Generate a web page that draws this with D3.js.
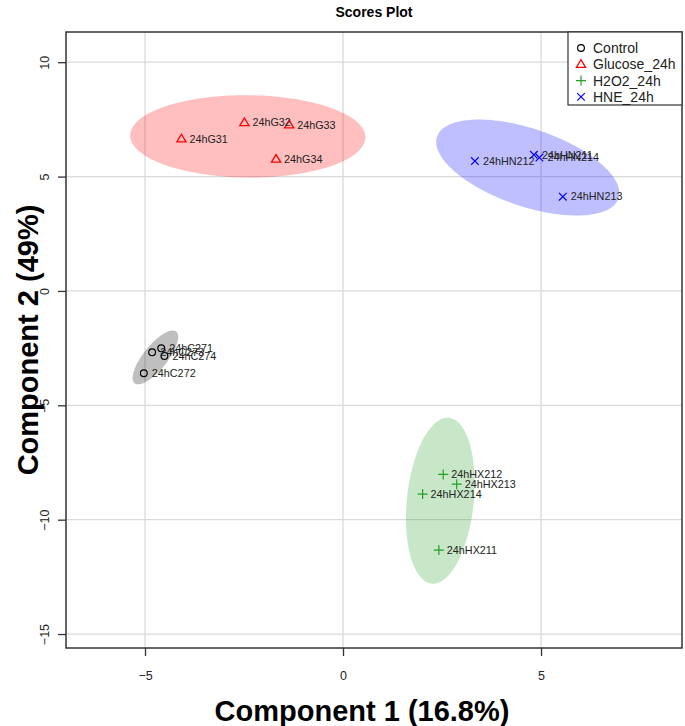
<!DOCTYPE html>
<html><head><meta charset="utf-8">
<script src="https://cdn.jsdelivr.net/npm/d3@7"></script>
<style>body{margin:0;background:#fff}</style></head>
<body><svg id="c" width="685" height="726"></svg>
<script>
const groups = ["Control", "Glucose_24h", "H2O2_24h", "HNE_24h"];
const groupColors = ["#000000", "#FF0000", "#23A023", "#0000FF"];
const sampleNames = ["24hC271","24hC273","24hC274","24hC272",
  "24hG32","24hG33","24hG31","24hG34",
  "24hHX212","24hHX213","24hHX214","24hHX211",
  "24hHN212","24hHN211","24hHN214","24hHN213"];
const sampleGroup = [0,0,0,0, 1,1,1,1, 2,2,2,2, 3,3,3,3];
const comp1 = [-4.59,-4.82,-4.51,-5.03, -2.49,-1.36,-4.08,-1.69, 2.53,2.87,2.01,2.42, 3.33,4.82,4.96,5.55];
const comp2 = [-2.51,-2.68,-2.84,-3.60, 7.36,7.26,6.65,5.76, -8.02,-8.45,-8.88,-11.33, 5.68,5.95,5.83,4.12];
const xTicks = [-5, 0, 5];
const yTicks = [-15, -10, -5, 0, 5, 10];
const xDomain = [-6.995, 8.56];
const yDomain = [-15.61, 11.32];

const svg = d3.select("#c");
const L = 66, R = 682, T = 32, B = 648;
const x = d3.scaleLinear().domain(xDomain).range([L, R]);
const y = d3.scaleLinear().domain(yDomain).range([B, T]);
const font = "'Liberation Sans', Arial, sans-serif";

// grid
svg.append("g").selectAll("line").data(xTicks).join("line")
  .attr("x1", d => x(d)).attr("x2", d => x(d)).attr("y1", T).attr("y2", B)
  .attr("stroke", "#DADADA").attr("stroke-width", 1.3);
svg.append("g").selectAll("line").data(yTicks).join("line")
  .attr("y1", d => y(d)).attr("y2", d => y(d)).attr("x1", L).attr("x2", R)
  .attr("stroke", "#DADADA").attr("stroke-width", 1.3);

// 95% confidence ellipses computed from the group scores
const tval = Math.sqrt(5.991465);
const lineGen = d3.line().x(p => x(p[0])).y(p => y(p[1])).curve(d3.curveLinearClosed);
groups.forEach((g, gi) => {
  const idx = sampleGroup.map((s, i) => s === gi ? i : -1).filter(i => i >= 0);
  const xs = idx.map(i => comp1[i]), ys = idx.map(i => comp2[i]);
  const n = xs.length, mx = d3.mean(xs), my = d3.mean(ys);
  let sxx = 0, syy = 0, sxy = 0;
  for (let k = 0; k < n; k++) { const dx = xs[k]-mx, dy = ys[k]-my; sxx += dx*dx; syy += dy*dy; sxy += dx*dy; }
  sxx /= (n-1); syy /= (n-1); sxy /= (n-1);
  const tr = sxx + syy, det = sxx*syy - sxy*sxy;
  const disc = Math.sqrt(Math.max(0, tr*tr/4 - det));
  const l1 = tr/2 + disc, l2 = tr/2 - disc;
  let v1 = Math.abs(sxy) > 1e-12 ? [l1 - syy, sxy] : (sxx >= syy ? [1,0] : [0,1]);
  const nv = Math.hypot(v1[0], v1[1]); v1 = [v1[0]/nv, v1[1]/nv];
  const v2 = [-v1[1], v1[0]];
  const pts = d3.range(0, 360, 2).map(a => {
    const th = a * Math.PI / 180;
    const c = tval*Math.sqrt(l1)*Math.cos(th), s = tval*Math.sqrt(Math.max(l2,0))*Math.sin(th);
    return [mx + c*v1[0] + s*v2[0], my + c*v1[1] + s*v2[1]];
  });
  const col = d3.color(groupColors[gi]); col.opacity = 0.25;
  svg.append("path").attr("d", lineGen(pts)).attr("fill", col.toString()).attr("stroke", "none");
});

// symbols
function drawSym(sel, gi, cx, cy) {
  const c = groupColors[gi];
  if (gi === 0) {
    sel.append("circle").attr("cx", cx).attr("cy", cy).attr("r", 3.4)
      .attr("fill", "none").attr("stroke", c).attr("stroke-width", 1.2);
  } else if (gi === 1) {
    const s = 4.6;
    sel.append("path").attr("d", `M${cx},${cy-s}L${cx+s},${cy+s*0.65}L${cx-s},${cy+s*0.65}Z`)
      .attr("fill", "none").attr("stroke", c).attr("stroke-width", 1.3);
  } else if (gi === 2) {
    const s = 5;
    sel.append("path").attr("d", `M${cx-s},${cy}H${cx+s}M${cx},${cy-s}V${cy+s}`)
      .attr("fill", "none").attr("stroke", c).attr("stroke-width", 1.2);
  } else {
    const s = 3.8;
    sel.append("path").attr("d", `M${cx-s},${cy-s}L${cx+s},${cy+s}M${cx-s},${cy+s}L${cx+s},${cy-s}`)
      .attr("fill", "none").attr("stroke", c).attr("stroke-width", 1.2);
  }
}
const pg = svg.append("g");
sampleNames.forEach((nm, i) => drawSym(pg, sampleGroup[i], x(comp1[i]), y(comp2[i])));
svg.append("g").selectAll("text").data(sampleNames).join("text")
  .attr("x", (d, i) => x(comp1[i]) + 8).attr("y", (d, i) => y(comp2[i]))
  .attr("dy", "0.35em").attr("font-family", font).attr("font-size", 10.8)
  .attr("fill", "#222").text(d => d);

// box
svg.append("rect").attr("x", L).attr("y", T).attr("width", R-L).attr("height", B-T)
  .attr("fill", "none").attr("stroke", "#333").attr("stroke-width", 1.5);

// axes ticks
const xa = svg.append("g").attr("transform", `translate(0,${B})`)
  .call(d3.axisBottom(x).tickValues(xTicks).tickSize(8).tickFormat(d3.format("d")));
xa.select(".domain").remove();
xa.selectAll("line").attr("stroke", "#333").attr("stroke-width", 1.3);
xa.selectAll("text").attr("font-family", font).attr("font-size", 12.5).attr("fill", "#222")
  .attr("dy", null).attr("y", 32);
const ya = svg.append("g").attr("transform", `translate(${L},0)`)
  .call(d3.axisLeft(y).tickValues(yTicks).tickSize(8).tickFormat(d3.format("d")));
ya.select(".domain").remove();
ya.selectAll("line").attr("stroke", "#333").attr("stroke-width", 1.3);
ya.selectAll("text").attr("font-family", font).attr("font-size", 12.5).attr("fill", "#222")
  .attr("x", null).attr("dy", null).attr("text-anchor", "middle")
  .attr("transform", "translate(-17,0) rotate(-90)").attr("y", 0);

// titles
svg.append("text").attr("x", (L+R)/2).attr("y", 17).attr("text-anchor", "middle")
  .attr("font-family", font).attr("font-weight", "bold").attr("font-size", 14).text("Scores Plot");
svg.append("text").attr("x", (L+R)/2 - 12).attr("y", 721).attr("text-anchor", "middle")
  .attr("font-family", font).attr("font-weight", "bold").attr("font-size", 29).text("Component 1 (16.8%)");
svg.append("text").attr("transform", `translate(38,${(T+B)/2}) rotate(-90)`).attr("text-anchor", "middle")
  .attr("font-family", font).attr("font-weight", "bold").attr("font-size", 29).text("Component 2 (49%)");

// legend
const lg = svg.append("g");
lg.append("rect").attr("x", 568).attr("y", T).attr("width", R-568).attr("height", 73)
  .attr("fill", "#fff").attr("stroke", "#333").attr("stroke-width", 1.2);
groups.forEach((g, gi) => {
  const ly = 48 + gi * 16.3;
  drawSym(lg, gi, 581, ly);
  lg.append("text").attr("x", 593).attr("y", ly).attr("dy", "0.35em")
    .attr("font-family", font).attr("font-size", 14).attr("fill", "#222").text(g);
});
</script></body></html>
